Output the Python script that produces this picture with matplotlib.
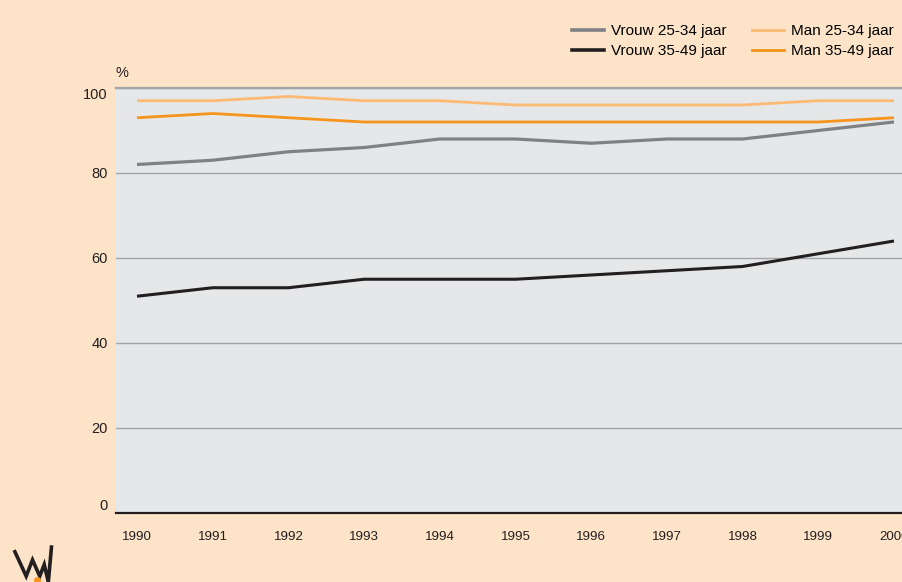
import matplotlib
matplotlib.use("Agg")
import matplotlib.pyplot as plt
from matplotlib.lines import Line2D

plt.rcParams['font.family'] = ['Liberation Sans', 'DejaVu Sans']

years = [1990, 1991, 1992, 1993, 1994, 1995, 1996, 1997, 1998, 1999, 2000]
vrouw_25_34 = [82, 83, 85, 86, 88, 88, 87, 88, 88, 90, 92]
vrouw_35_49 = [51, 53, 53, 55, 55, 55, 56, 57, 58, 61, 64]
man_25_34 = [97, 97, 98, 97, 97, 96, 96, 96, 96, 97, 97]
man_35_49 = [93, 94, 93, 92, 92, 92, 92, 92, 92, 92, 93]
y_ticks = [0, 20, 40, 60, 80, 100]

bg = '#FDE3C8'
panel = '#E6E7E8'
c_vrouw_25 = '#808184'
c_vrouw_35 = '#231F20'
c_man_25 = '#FDBA74'
c_man_35 = '#F7941D'

fig = plt.figure(figsize=(9.03, 5.82), dpi=100, facecolor=bg)
ax = fig.add_axes([0.1285, 0.1186, 0.8715, 0.7302])
ax.set_facecolor(panel)

ax.plot(years, man_25_34, color=c_man_25, lw=2.0, solid_capstyle='butt', zorder=3)
ax.plot(years, man_35_49, color=c_man_35, lw=2.0, solid_capstyle='butt', zorder=3)
ax.plot(years, vrouw_25_34, color=c_vrouw_25, lw=2.3, solid_capstyle='butt', zorder=3)
ax.plot(years, vrouw_35_49, color=c_vrouw_35, lw=2.2, solid_capstyle='butt', zorder=3)

ax.set_xlim(1989.723, 2000.119)
ax.set_ylim(0, 100)
ax.set_xticks(years)
ax.set_xticklabels([str(y) for y in years], fontsize=9.6, color='#231F20')
ax.set_yticks(y_ticks)
ax.set_yticklabels([str(v) for v in y_ticks], fontsize=10.5, color='#231F20')
ax.tick_params(axis='both', length=0)
ax.tick_params(axis='x', pad=13)
ax.tick_params(axis='y', pad=6)
labels = ax.get_yticklabels()
labels[0].set_va('bottom')
labels[-1].set_va('top')

ax.grid(axis='y', color='#A2A4A7', lw=1.0, zorder=1)
ax.grid(axis='x', visible=False)
for side in ('left', 'right'):
    ax.spines[side].set_visible(False)
ax.spines['top'].set_color('#A2A4A7')
ax.spines['top'].set_linewidth(1.6)
ax.spines['bottom'].set_color('#231F20')
ax.spines['bottom'].set_linewidth(1.6)

fig.text(0.1345, 0.862, '%', fontsize=10.5, color='#231F20', ha='center', va='bottom')

handles = [
    Line2D([], [], color=c_vrouw_25, lw=2.6),
    Line2D([], [], color=c_vrouw_35, lw=2.6),
    Line2D([], [], color=c_man_25, lw=2.0),
    Line2D([], [], color=c_man_35, lw=2.0),
]
names = ['Vrouw 25-34 jaar', 'Vrouw 35-49 jaar', 'Man 25-34 jaar', 'Man 35-49 jaar']
fig.legend(handles, names, ncol=2, frameon=False, fontsize=11,
           loc='upper right', bbox_to_anchor=(0.990, 0.959),
           handlelength=2.1, handletextpad=0.45, columnspacing=1.7,
           labelspacing=0.42, borderaxespad=0, borderpad=0)

# Logo mark in the lower-left corner
fig.lines.append(Line2D([0.0165, 0.029, 0.036, 0.044, 0.049, 0.0535, 0.057],
                        [0.052, 0.010, 0.038, 0.010, 0.030, 0.000, 0.060],
                        transform=fig.transFigure, color='#231F20', lw=2.6,
                        solid_joinstyle='miter'))
fig.lines.append(Line2D([0.041], [0.004], transform=fig.transFigure,
                        marker='o', ms=4, color='#F7941D', lw=0))

fig.savefig('out.png', dpi=100, facecolor=bg)
